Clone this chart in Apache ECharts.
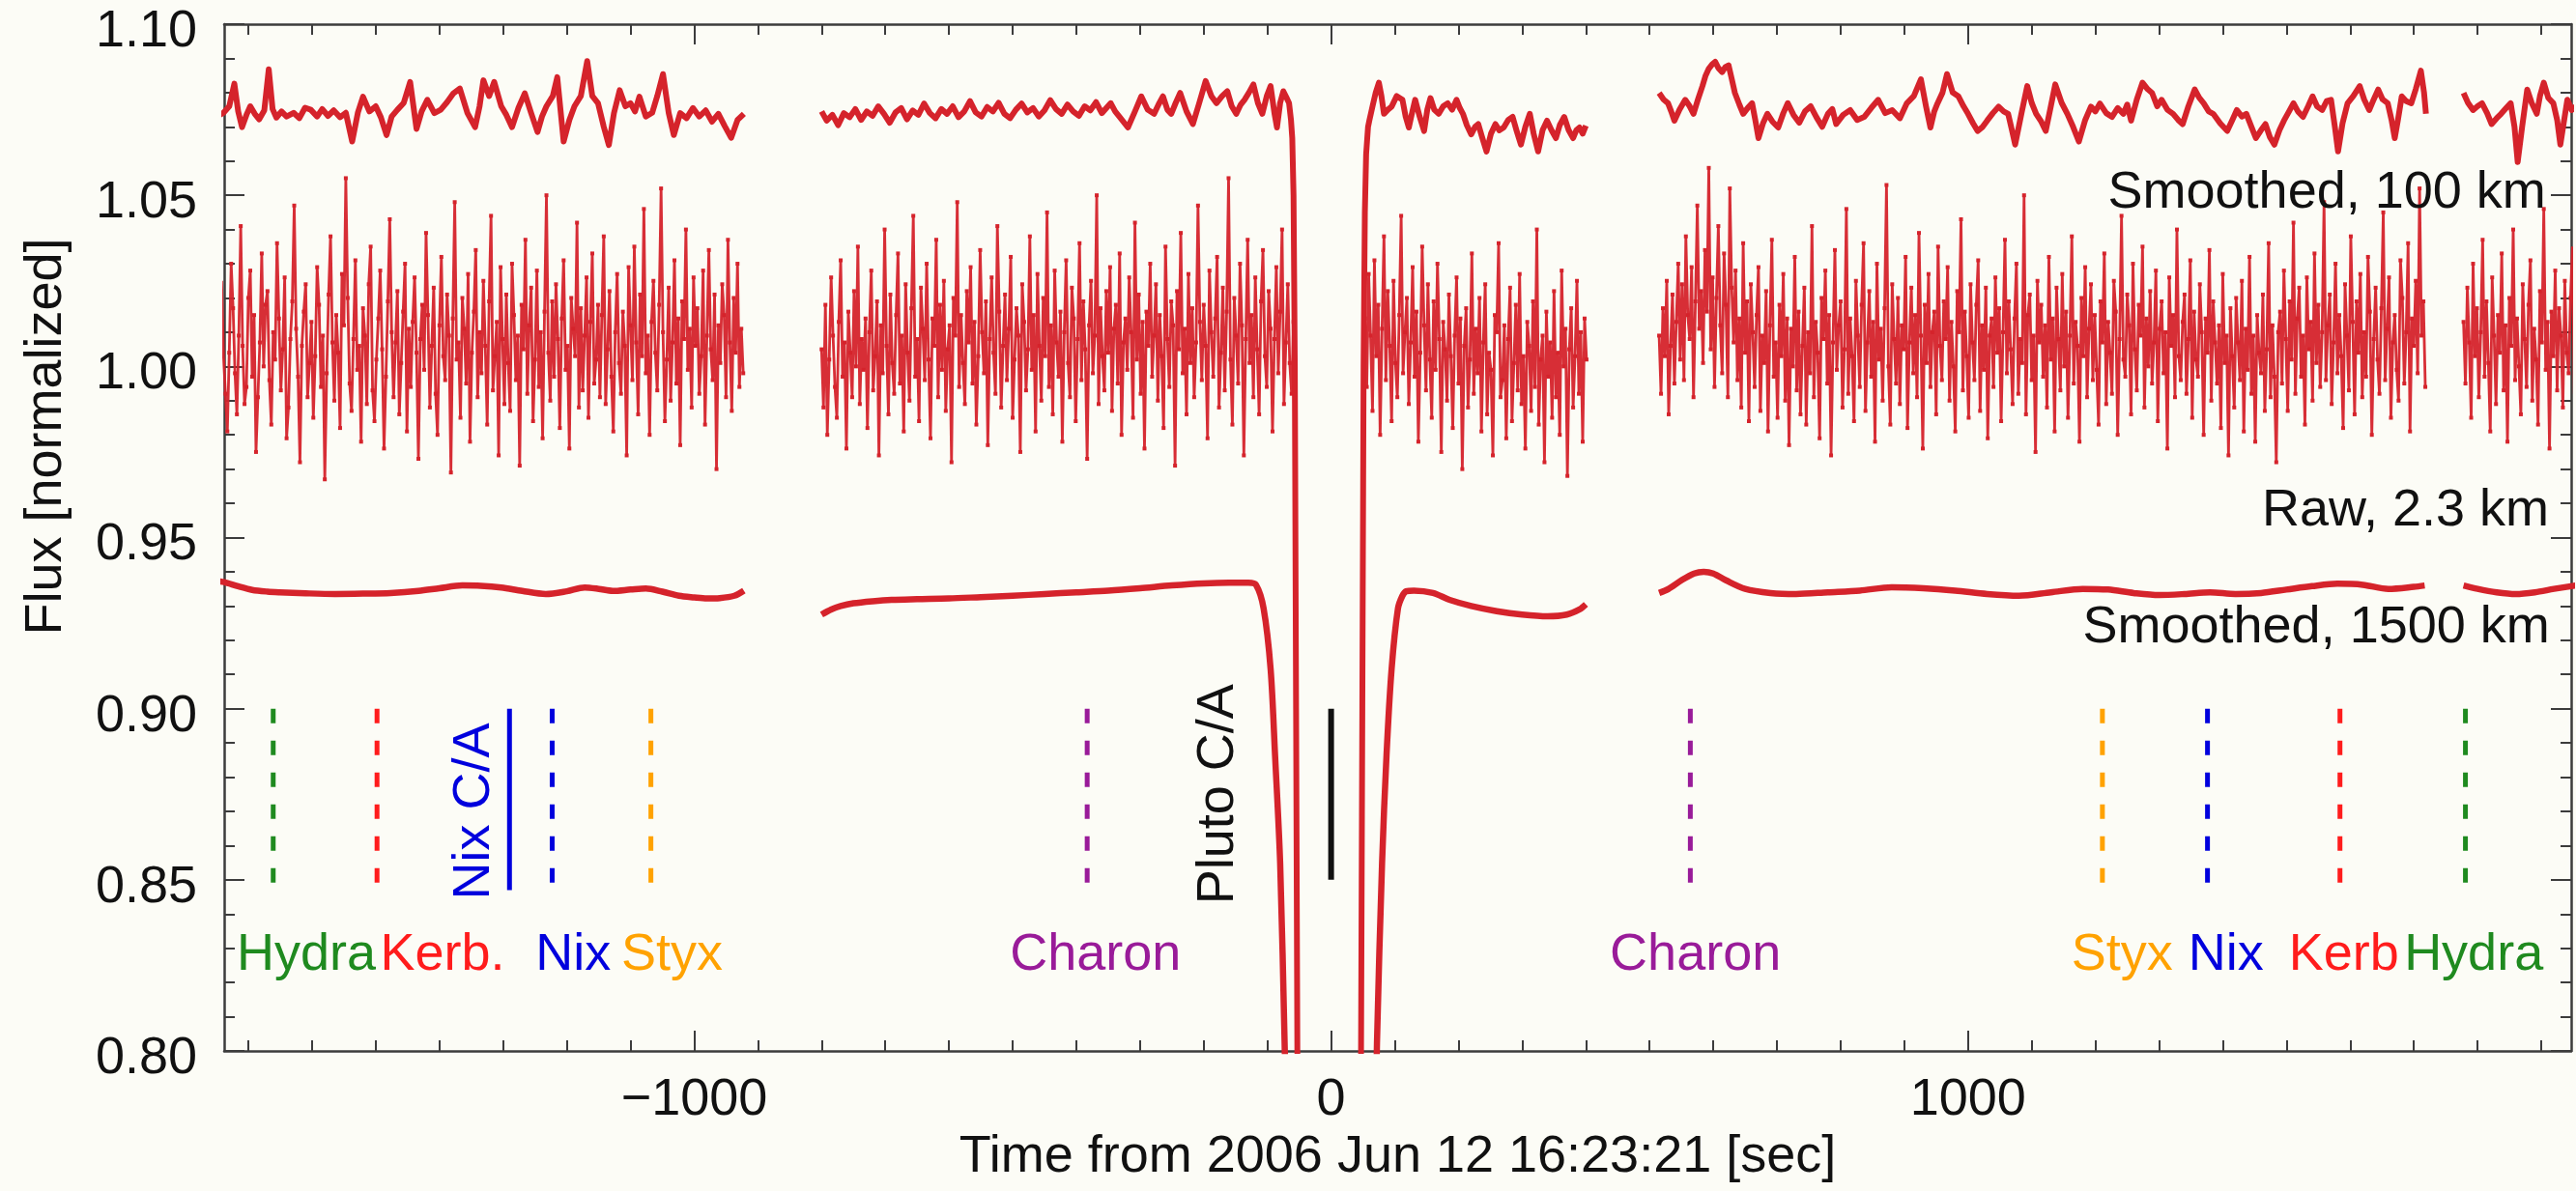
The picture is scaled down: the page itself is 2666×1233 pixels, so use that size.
<!DOCTYPE html>
<html>
<head>
<meta charset="utf-8">
<script src="https://cdn.jsdelivr.net/npm/echarts@6/dist/echarts.min.js"></script>
<style>
  html, body { margin: 0; padding: 0; background: #fcfcf6; }
  #chart { width: 2666px; height: 1233px; }
</style>
</head>
<body>
<div id="chart"></div>
<script>
// ---------------- DATA ----------------
// Axis ticks
const xMajorTicks = [-1000, 0, 1000];
const xMinorTicks = [-1700,-1600,-1500,-1400,-1300,-1200,-1100,-900,-800,-700,-600,-500,-400,-300,-200,-100,
                     100,200,300,400,500,600,700,800,900,1100,1200,1300,1400,1500,1600,1700,1800,1900];

// Raw data (2.3 km): deviations in thousandths of normalized flux, regular sampling
const rawStep = 3; // seconds between samples
const rawStarts = [-1745, -800, 44, 515, 1778];
const raw1 = [
 12,25,3,-8,-19,4,30,17,-2,-14,9,41,6,-11,-6,20,28,-3,15,-25,-9,7,33,0,18,
 22,-4,-17,10,2,36,14,-7,5,26,-21,-12,8,19,47,11,-3,-28,6,16,24,-9,1,13,-15,
 3,29,18,-6,9,-33,-2,21,38,7,-10,15,4,-18,27,12,55,20,-5,-13,8,31,-1,6,-22,
 17,9,-11,24,35,-7,-16,2,14,28,5,-24,-3,19,43,10,-9,7,22,-14,1,16,30,-19,11,
 -6,13,26,4,-27,8,18,-1,39,15,-12,6,23,-8,-20,12,32,3,-4,21,9,-31,14,48,2,
 7,-15,20,11,-5,27,-22,4,16,34,-9,10,-2,25,6,-17,19,44,-7,3,13,-26,29,8,-11,
 21,1,-13,30,15,-4,9,-29,18,5,37,-8,12,23,-16,2,28,-6,10,-21,16,50,4,-10,19,
 -3,24,8,-18,14,31,-1,6,-24,20,11,3,42,-12,17,-7,9,26,-15,13,33,-5,2,18,-9,
 15,38,-11,5,22,-3,-19,10,27,1,-8,16,6,-26,29,12,-4,35,7,-14,21,3,46,-2,9,
 -20,13,25,4,-7,18,52,10,-16,2,23,-10,7,31,-5,14,-23,19,8,40,-1,11,-12,26,6,
 17,-8,3,28,-17,9,34,5,-4,21,-30,12,1,24,15,-9,37,7,-13,20,4,30,-6,11,-2
];
const raw2 = [
 5,-12,18,-20,2,26,9,-6,-15,13,31,-3,7,-24,16,4,-9,22,0,35,-11,8,-1,14,-18,
 10,28,-7,3,19,-26,12,-2,40,6,-14,21,1,-8,15,33,-5,9,-19,24,4,-10,17,44,-3,
 8,-16,23,11,-4,30,2,-21,14,6,37,-9,18,-1,25,-13,5,12,-28,20,9,48,-6,15,1,
 -11,22,7,29,-5,13,-17,3,34,10,-2,19,-23,8,26,4,-8,41,16,-12,6,21,-4,11,32,
 -15,2,17,9,-25,24,13,-7,5,38,-1,15,-19,27,6,-10,20,3,45,-6,12,-14,28,7,-3,
 16,-22,10,31,1,-9,23,14,-16,8,36,-4,19,5,-27,12,25,-2,9,50,-11,17,3,-7,22,
 4,29,-13,11,18,-5,33,-20,7,14,-1,26,10,-15,42,2,21,-8,13,-24,16,6,30,-3,9,
 24,-10,15,3,-18,35,8,-6,19,12,-29,22,5,39,-2,11,-14,27,1,17,-9,7,47,13,-4,
 18,6,-21,28,10,-3,14,32,-12,4,23,-7,16,55,2,-17,20,9,-5,30,12,-26,8,37,1,
 15,-9,26,5,-14,19,34,3,-6,22,11,-19,8,29,-2,16,40,-11,7,24,1,-8,13,-60,-200,-350
];
const raw3 = [
 -420,-210,-40,14,-6,27,9,-13,31,3,18,-20,11,38,-4,22,6,-16,25,1,-9,15,44,-2,10,
 20,-11,7,29,-3,16,-22,4,35,12,-7,24,2,-15,19,-1,30,8,-25,13,5,-10,21,3,-18,
 9,26,-5,14,-30,6,17,-12,2,33,-8,11,-2,20,-19,7,24,-14,4,-1,-26,15,10,36,-9,
 -4,12,-21,8,23,-16,1,18,-7,27,-11,3,-24,13,6,-13,19,-6,40,-17,2,9,-28,16,-3,
 7,-15,22,-9,4,-20,28,0,11,-32,5,17,-12,3,25,-8,10,-22,14,2
];
const raw4 = [
 9,-8,17,3,25,-14,6,21,-5,13,30,2,24,-4,38,15,8,29,-9,19,47,11,22,1,34,
 16,58,5,26,-6,20,41,12,-2,33,18,-9,52,23,7,28,-4,14,-12,36,4,19,-16,24,10,
 -6,15,29,-13,9,1,22,-19,12,37,-3,7,-15,18,3,27,-10,14,-23,11,0,32,-7,16,-14,
 6,23,-17,10,-2,41,-9,13,4,-21,20,8,28,-5,15,-26,7,34,-1,12,19,-12,5,46,-8,
 14,3,-16,25,9,-6,18,36,-13,7,22,-3,13,-22,30,2,11,-10,17,53,0,-17,24,8,-5,
 20,-11,12,5,32,-18,7,23,-2,15,-9,39,9,-24,18,1,27,-6,10,16,-14,35,6,-4,19,
 8,29,-10,13,0,-19,22,10,43,-7,16,3,-15,24,7,-4,18,31,-13,12,-1,23,-21,9,14,
 -6,26,4,17,-16,10,37,-2,19,5,-11,14,30,-8,8,1,50,-14,15,21,-4,9,-25,25,7,
 18,-3,12,-12,32,2,14,-19,23,8,-7,27,0,16,-15,9,38,-5,13,6,-22,20,3,29,-9,
 11,24,-4,15,-1,-17,19,7,33,-11,13,4,-8,25,16,-20,8,44,2,-3,21,12,-14,30,5,
 -7,18,9,35,-12,14,0,22,-5,7,28,-16,11,19,-2,10,-24,26,6,15,-9,40,3,-4,13,
 21,-8,8,31,-15,16,2,-3,24,10,-20,14,4,34,-10,19,7,-5,12,-18,27,1,9,-26,17,
 3,-12,20,7,-4,25,-19,11,-1,32,-8,9,-22,15,4,-2,21,-13,5,36,-9,12,-3,-28,10,
 16,-5,28,8,-13,19,2,42,-8,14,23,-3,9,-17,26,5,13,-10,33,1,18,-6,10,48,-4,
 12,21,-11,7,30,-2,15,3,-18,24,9,-7,38,13,-14,19,4,27,-9,10,-3,32,16,-20,8,
 23,2,-8,17,45,-4,11,26,-15,7,15,-1,-10,31,20,-5,10,36,-19,14,6,25,-2,52,9,
 19,-6
];
const raw5 = [
 13,-5,23,7,-15,30,3,17,-9,10,37,-3,19,1,-19,26,9,-11,15,4,33,-7,12,-22,20,
 6,40,-4,14,0,-14,24,8,-6,18,31,-10,11,2,-17,22,7,46,-1,13,-24,16,3,28,-7,
 17,9,-12,25,4,-2,20,35,-8,12
];

// Smoothed, 100 km (offset curve): [time s, flux]
const s100seg1 = [[-1745,1.0735],[-1739,1.0741],[-1730,1.0760],[-1722,1.0826],[-1716,1.0745],[-1710,1.0699],[-1703,1.0735],[-1697,1.0760],[-1690,1.0738],[-1683,1.0722],[-1675,1.0748],[-1668,1.0868],[-1662,1.0752],[-1656,1.0727],[-1648,1.0745],[-1640,1.0730],[-1629,1.0741],[-1620,1.0725],[-1611,1.0756],[-1602,1.0750],[-1592,1.0730],[-1584,1.0752],[-1575,1.0732],[-1566,1.0748],[-1556,1.0728],[-1547,1.0741],[-1537,1.0657],[-1528,1.0742],[-1520,1.0788],[-1510,1.0745],[-1500,1.0760],[-1492,1.0728],[-1483,1.0676],[-1475,1.0730],[-1466,1.0750],[-1456,1.0770],[-1446,1.0831],[-1436,1.0694],[-1428,1.0745],[-1419,1.0779],[-1408,1.0740],[-1398,1.0750],[-1388,1.0772],[-1378,1.0798],[-1368,1.0812],[-1356,1.0740],[-1344,1.0699],[-1337,1.0760],[-1331,1.0836],[-1322,1.0790],[-1314,1.0831],[-1303,1.0760],[-1295,1.0735],[-1286,1.0699],[-1276,1.0755],[-1266,1.0798],[-1256,1.0740],[-1246,1.0685],[-1239,1.0730],[-1232,1.0760],[-1222,1.0790],[-1215,1.0845],[-1205,1.0657],[-1196,1.0720],[-1188,1.0760],[-1178,1.0790],[-1168,1.0892],[-1160,1.0790],[-1151,1.0769],[-1142,1.0700],[-1134,1.0647],[-1126,1.0740],[-1117,1.0807],[-1108,1.0760],[-1100,1.0769],[-1093,1.0745],[-1086,1.0788],[-1076,1.0730],[-1066,1.0741],[-1058,1.0790],[-1049,1.0854],[-1040,1.0740],[-1032,1.0676],[-1022,1.0740],[-1012,1.0725],[-1002,1.0755],[-992,1.0730],[-982,1.0748],[-972,1.0715],[-962,1.0738],[-952,1.0702],[-942,1.0668],[-932,1.0720],[-922,1.0738]];
const s100seg2 = [[-800,1.0745],[-792,1.0718],[-783,1.0735],[-774,1.0705],[-765,1.0740],[-756,1.0728],[-747,1.0752],[-738,1.0720],[-729,1.0745],[-720,1.0732],[-711,1.0760],[-702,1.0738],[-693,1.0712],[-684,1.0742],[-675,1.0755],[-666,1.0722],[-657,1.0748],[-648,1.0735],[-639,1.0768],[-630,1.0740],[-621,1.0725],[-612,1.0752],[-603,1.0738],[-594,1.0760],[-585,1.0728],[-576,1.0745],[-567,1.0775],[-558,1.0742],[-549,1.0730],[-540,1.0758],[-531,1.0745],[-522,1.0770],[-513,1.0738],[-504,1.0725],[-495,1.0750],[-486,1.0768],[-477,1.0742],[-468,1.0755],[-459,1.0730],[-450,1.0748],[-441,1.0778],[-432,1.0752],[-423,1.0738],[-414,1.0765],[-405,1.0745],[-396,1.0732],[-387,1.0760],[-378,1.0748],[-369,1.0772],[-360,1.0740],[-346,1.0769],[-339,1.0745],[-332,1.0729],[-319,1.0698],[-308,1.0745],[-298,1.0789],[-288,1.0750],[-278,1.0738],[-271,1.0765],[-264,1.0789],[-257,1.0750],[-251,1.0738],[-244,1.0770],[-237,1.0799],[-227,1.0745],[-217,1.0708],[-207,1.0770],[-197,1.0834],[-188,1.0790],[-180,1.0769],[-171,1.0790],[-163,1.0804],[-156,1.0760],[-149,1.0738],[-142,1.0765],[-136,1.0779],[-129,1.0800],[-122,1.0824],[-115,1.0770],[-108,1.0738],[-101,1.0790],[-95,1.0819],[-89,1.0740],[-85,1.0698],[-80,1.0770],[-75,1.0804],[-70,1.0785],[-66,1.0769],[-63,1.0720],[-61,1.0667],[-59,1.0500],[-57,1.0000],[-55,0.9000],[-53,0.8000],[-51,0.7000],[-45,0.4000]];
const s100seg3 = [[41,0.4000],[45,0.7000],[47,0.8000],[49,0.9000],[51,1.0000],[53,1.0450],[55,1.0620],[58,1.0700],[60,1.0718],[65,1.0760],[70,1.0800],[75,1.0829],[79,1.0790],[83,1.0738],[89,1.0750],[95,1.0759],[103,1.0790],[112,1.0779],[117,1.0730],[122,1.0698],[127,1.0740],[132,1.0779],[139,1.0730],[146,1.0688],[151,1.0750],[156,1.0784],[162,1.0750],[169,1.0738],[176,1.0760],[183,1.0769],[190,1.0750],[197,1.0779],[202,1.0755],[207,1.0738],[213,1.0705],[220,1.0678],[226,1.0700],[231,1.0708],[237,1.0670],[244,1.0628],[251,1.0680],[258,1.0708],[264,1.0690],[271,1.0698],[278,1.0720],[285,1.0729],[291,1.0690],[298,1.0648],[305,1.0700],[312,1.0738],[318,1.0680],[325,1.0628],[332,1.0690],[339,1.0718],[346,1.0690],[353,1.0667],[359,1.0705],[366,1.0729],[373,1.0690],[380,1.0667],[385,1.0690],[390,1.0698],[395,1.0680],[400,1.0703]];
const s100seg4 = [[515,1.0799],[522,1.0780],[529,1.0769],[534,1.0745],[539,1.0718],[547,1.0750],[556,1.0779],[563,1.0760],[569,1.0738],[576,1.0780],[583,1.0819],[588,1.0850],[593,1.0870],[598,1.0882],[603,1.0890],[608,1.0872],[614,1.0860],[619,1.0875],[624,1.0880],[629,1.0840],[634,1.0799],[641,1.0765],[647,1.0738],[654,1.0755],[661,1.0769],[666,1.0720],[671,1.0667],[678,1.0710],[685,1.0738],[693,1.0715],[702,1.0698],[710,1.0740],[717,1.0769],[726,1.0735],[735,1.0712],[744,1.0745],[753,1.0760],[762,1.0728],[771,1.0700],[780,1.0738],[787,1.0752],[793,1.0708],[804,1.0735],[815,1.0749],[826,1.0720],[837,1.0729],[848,1.0755],[859,1.0779],[870,1.0740],[881,1.0749],[893,1.0725],[904,1.0769],[915,1.0790],[926,1.0839],[934,1.0760],[941,1.0698],[947,1.0745],[952,1.0768],[960,1.0800],[967,1.0854],[976,1.0800],[985,1.0789],[993,1.0760],[1000,1.0738],[1008,1.0710],[1015,1.0688],[1023,1.0700],[1030,1.0718],[1039,1.0740],[1048,1.0759],[1056,1.0745],[1063,1.0738],[1069,1.0690],[1074,1.0648],[1084,1.0740],[1093,1.0819],[1100,1.0770],[1107,1.0738],[1115,1.0715],[1122,1.0688],[1130,1.0760],[1137,1.0824],[1147,1.0770],[1156,1.0738],[1165,1.0700],[1174,1.0657],[1184,1.0720],[1193,1.0759],[1200,1.0745],[1207,1.0768],[1217,1.0740],[1226,1.0729],[1235,1.0755],[1244,1.0738],[1250,1.0765],[1256,1.0718],[1265,1.0780],[1274,1.0829],[1282,1.0810],[1289,1.0799],[1297,1.0760],[1304,1.0779],[1313,1.0750],[1322,1.0738],[1330,1.0720],[1337,1.0708],[1346,1.0760],[1356,1.0809],[1363,1.0785],[1370,1.0769],[1378,1.0745],[1385,1.0738],[1396,1.0710],[1407,1.0688],[1415,1.0720],[1422,1.0749],[1430,1.0730],[1437,1.0738],[1445,1.0700],[1452,1.0667],[1460,1.0690],[1467,1.0708],[1474,1.0670],[1481,1.0648],[1489,1.0690],[1496,1.0718],[1504,1.0745],[1511,1.0769],[1518,1.0745],[1526,1.0729],[1534,1.0760],[1541,1.0789],[1548,1.0760],[1556,1.0749],[1563,1.0775],[1570,1.0779],[1576,1.0700],[1581,1.0628],[1588,1.0710],[1596,1.0769],[1605,1.0790],[1615,1.0819],[1622,1.0780],[1630,1.0749],[1637,1.0780],[1644,1.0809],[1651,1.0780],[1659,1.0769],[1665,1.0720],[1670,1.0667],[1675,1.0720],[1681,1.0789],[1688,1.0775],[1696,1.0769],[1703,1.0810],[1711,1.0864],[1716,1.0800],[1719,1.0738]];
const s100seg5 = [[1778,1.0799],[1785,1.0770],[1793,1.0749],[1800,1.0760],[1807,1.0769],[1815,1.0740],[1822,1.0708],[1830,1.0725],[1837,1.0738],[1845,1.0755],[1852,1.0769],[1858,1.0700],[1863,1.0597],[1870,1.0700],[1878,1.0809],[1885,1.0770],[1893,1.0738],[1898,1.0790],[1904,1.0829],[1911,1.0785],[1919,1.0769],[1925,1.0720],[1930,1.0648],[1936,1.0720],[1941,1.0779],[1948,1.0749],[1954,1.0760]];

// Smoothed, 1500 km (offset curve): [time s, flux]
const s1500seg1 = [[-1745,0.9372],[-1738,0.9370],[-1715,0.9357],[-1694,0.9347],[-1670,0.9342],[-1651,0.9340],[-1610,0.9337],[-1564,0.9335],[-1520,0.9336],[-1477,0.9338],[-1433,0.9344],[-1400,0.9352],[-1364,0.9360],[-1335,0.9359],[-1303,0.9354],[-1270,0.9344],[-1233,0.9335],[-1200,0.9343],[-1172,0.9354],[-1150,0.9350],[-1128,0.9344],[-1100,0.9348],[-1076,0.9351],[-1050,0.9342],[-1024,0.9330],[-1000,0.9325],[-980,0.9322],[-960,0.9323],[-937,0.9330],[-922,0.9345]];
const s1500seg2 = [[-800,0.9275],[-785,0.9290],[-770,0.9300],[-750,0.9308],[-720,0.9314],[-690,0.9318],[-650,0.9320],[-600,0.9322],[-550,0.9326],[-500,0.9330],[-450,0.9335],[-400,0.9340],[-350,0.9345],[-300,0.9352],[-250,0.9360],[-200,0.9366],[-160,0.9368],[-130,0.9368],[-118,0.9362],[-106,0.9293],[-95,0.9116],[-88,0.8864],[-80,0.8549],[-73,0.8023],[-66,0.7400],[-58,0.6500]];
const s1500seg3 = [[58,0.6500],[66,0.7400],[72,0.8023],[80,0.8549],[87,0.8864],[95,0.9116],[105,0.9293],[112,0.9330],[118,0.9343],[130,0.9345],[160,0.9338],[186,0.9318],[220,0.9300],[260,0.9285],[300,0.9275],[340,0.9270],[370,0.9275],[390,0.9290],[400,0.9305]];
const s1500seg4 = [[515,0.9338],[530,0.9350],[550,0.9375],[570,0.9395],[585,0.9400],[600,0.9395],[620,0.9375],[650,0.9350],[690,0.9338],[730,0.9335],[780,0.9340],[830,0.9345],[880,0.9355],[930,0.9352],[980,0.9345],[1030,0.9335],[1080,0.9330],[1130,0.9340],[1180,0.9350],[1220,0.9348],[1260,0.9338],[1300,0.9332],[1340,0.9335],[1380,0.9340],[1420,0.9335],[1460,0.9338],[1500,0.9348],[1540,0.9358],[1580,0.9365],[1620,0.9362],[1660,0.9350],[1700,0.9356],[1717,0.9360]];
const s1500seg5 = [[1778,0.9360],[1800,0.9350],[1830,0.9340],[1860,0.9335],[1890,0.9340],[1920,0.9350],[1954,0.9360]];

// Moon closest-approach markers
const moonNames  = ['Hydra','Kerb.','Nix','Styx','Charon','Charon','Styx','Nix','Kerb','Hydra'];
const moonMarkT  = [-1661,-1498,-1223,-1068,-383,564,1211,1376,1584,1781];
const moonLabelT = [-1609,-1395,-1190,-1035,-370,572,1242,1405,1590,1794];
const moonMarkRange = [0.900, 0.847];
const moonLabelY = 0.828;
const nixCA   = { t: -1290, range: [0.900, 0.847], labelT: -1345, labelY: 0.870 };
const plutoCA = { t: 0,     range: [0.900, 0.850], labelT: -176,  labelY: 0.875 };

// Curve annotations (right-aligned)
const curveLabels  = ['Smoothed, 100 km', 'Raw, 2.3 km', 'Smoothed, 1500 km'];
const curveLabelT  = [1908, 1913, 1914];
const curveLabelY  = [1.0507, 0.9578, 0.9235];

// ---------------- STYLE ----------------
const RED = '#d5232b';
const FONT = '"Liberation Sans", Arial, Helvetica, sans-serif';
const FS = 54;
const AX = '#3c3c3c';
const moonColors = {Hydra:'#1f8a1f', 'Kerb.':'#ff1c1c', Kerb:'#ff1c1c', Nix:'#0000dd', Styx:'#ffa200', Charon:'#991b99'};

const chart = echarts.init(document.getElementById('chart'), null, {renderer: 'canvas'});

const series = [];
const rawSegs = [raw1, raw2, raw3, raw4, raw5];
rawSegs.forEach((vals, k) => {
  series.push({
    type: 'line', xAxisIndex: 0, yAxisIndex: 0, silent: true, z: 2,
    data: vals.map((v, i) => [rawStarts[k] + i * rawStep, 1 + v / 1000]),
    showSymbol: true, showAllSymbol: true, symbol: 'rect', symbolSize: 4,
    itemStyle: { color: RED, opacity: 1 },
    lineStyle: { color: RED, width: 2.8, opacity: 0.95 }
  });
});
[s100seg1, s100seg2, s100seg3, s100seg4, s100seg5].forEach(seg => {
  series.push({
    type: 'line', data: seg, silent: true, z: 3, showSymbol: false,
    lineStyle: { color: RED, width: 6, join: 'round' }
  });
});
[s1500seg1, s1500seg2, s1500seg3, s1500seg4, s1500seg5].forEach(seg => {
  series.push({
    type: 'line', data: seg, silent: true, z: 3, showSymbol: false, smooth: 0.3,
    lineStyle: { color: RED, width: 6.5, join: 'round' }
  });
});
// moon markers
moonNames.forEach((n, i) => {
  series.push({
    type: 'line', silent: true, z: 4, showSymbol: false,
    data: [[moonMarkT[i], moonMarkRange[0]], [moonMarkT[i], moonMarkRange[1]]],
    lineStyle: { color: moonColors[n], width: 5, type: [15, 18], cap: 'butt' }
  });
});
series.push({
  type: 'line', silent: true, z: 4, showSymbol: false,
  data: [[nixCA.t, nixCA.range[0]], [nixCA.t, nixCA.range[1]]],
  lineStyle: { color: '#0000dd', width: 5 }
});
series.push({
  type: 'line', silent: true, z: 4, showSymbol: false,
  data: [[plutoCA.t, plutoCA.range[0]], [plutoCA.t, plutoCA.range[1]]],
  lineStyle: { color: '#111111', width: 6 }
});
// text annotations
const textData = [];
moonNames.forEach((n, i) => {
  textData.push({ value: [moonLabelT[i], moonLabelY],
    label: { formatter: n, color: moonColors[n], position: 'inside', align: 'center', verticalAlign: 'middle' } });
});
textData.push({ value: [nixCA.labelT, nixCA.labelY],
  label: { formatter: 'Nix C/A', color: '#0000dd', rotate: 90, position: 'inside', align: 'center', verticalAlign: 'middle' } });
textData.push({ value: [plutoCA.labelT, plutoCA.labelY],
  label: { formatter: 'Pluto C/A', color: '#111111', rotate: 90, position: 'inside', align: 'center', verticalAlign: 'middle' } });
curveLabels.forEach((s, i) => {
  textData.push({ value: [curveLabelT[i], curveLabelY[i]],
    label: { formatter: s, color: '#111111', position: 'left', distance: 0, align: 'right', verticalAlign: 'middle' } });
});
series.push({
  type: 'scatter', silent: true, z: 10, symbolSize: 1,
  itemStyle: { color: 'rgba(0,0,0,0)', opacity: 1 },
  label: { show: true, fontSize: FS, fontFamily: FONT, opacity: 1, textBorderWidth: 0 },
  labelLayout: { hideOverlap: false },
  data: textData
});

const xBase = { type: 'value', min: -1738, max: 1947, splitLine: { show: false }, gridIndex: 0 };
const option = {
  animation: false,
  backgroundColor: '#fcfcf6',
  grid: { left: 232, right: 5, top: 25, bottom: 145, containLabel: false, outerBoundsMode: 'none' },
  xAxis: [
    Object.assign({}, xBase, {
      position: 'bottom',
      axisLine: { show: true, onZero: false, lineStyle: { color: AX, width: 2.5 } },
      axisTick: { show: true, inside: true, length: 21, customValues: xMajorTicks, lineStyle: { color: AX, width: 2 } },
      axisLabel: { show: true, customValues: xMajorTicks, margin: 24, fontSize: FS, fontFamily: FONT, color: '#111',
        formatter: v => v < 0 ? '\u2212' + Math.abs(v) : String(v) },
      name: 'Time from 2006 Jun 12 16:23:21 [sec]', nameLocation: 'middle', nameGap: 80,
      nameTextStyle: { fontSize: FS, fontFamily: FONT, color: '#111' }
    }),
    Object.assign({}, xBase, {
      position: 'bottom',
      axisLine: { show: false, onZero: false },
      axisTick: { show: true, inside: true, length: 11, customValues: xMinorTicks, lineStyle: { color: AX, width: 2 } },
      axisLabel: { show: false }
    }),
    Object.assign({}, xBase, {
      position: 'top',
      axisLine: { show: true, onZero: false, lineStyle: { color: AX, width: 2.5 } },
      axisTick: { show: true, inside: true, length: 21, customValues: xMajorTicks, lineStyle: { color: AX, width: 2 } },
      axisLabel: { show: false }
    }),
    Object.assign({}, xBase, {
      position: 'top',
      axisLine: { show: false, onZero: false },
      axisTick: { show: true, inside: true, length: 11, customValues: xMinorTicks, lineStyle: { color: AX, width: 2 } },
      axisLabel: { show: false }
    })
  ],
  yAxis: [
    {
      type: 'value', min: 0.8, max: 1.1, interval: 0.05, position: 'left',
      splitLine: { show: false }, minorSplitLine: { show: false },
      axisLine: { show: true, onZero: false, lineStyle: { color: AX, width: 2.5 } },
      axisTick: { show: true, inside: true, length: 21, lineStyle: { color: AX, width: 2 } },
      minorTick: { show: true, splitNumber: 5, length: 11, lineStyle: { color: AX, width: 2 } },
      axisLabel: { show: true, margin: 28, color: '#111',
        formatter: v => '{t|' + v.toFixed(2) + '}',
        rich: { t: { fontSize: FS, fontFamily: FONT, color: '#111', padding: [16, 0, 0, 0] } } }
    },
    {
      type: 'value', min: 0.8, max: 1.1, interval: 0.05, position: 'right',
      splitLine: { show: false }, minorSplitLine: { show: false },
      axisLine: { show: true, onZero: false, lineStyle: { color: AX, width: 2.5 } },
      axisTick: { show: true, inside: true, length: 21, lineStyle: { color: AX, width: 2 } },
      minorTick: { show: true, splitNumber: 5, length: 11, lineStyle: { color: AX, width: 2 } },
      axisLabel: { show: false }
    }
  ],
  graphic: [{
    type: 'text', x: 48, y: 452, rotation: Math.PI / 2, z: 20,
    style: { text: 'Flux [normalized]', fontSize: FS, fontFamily: FONT, fill: '#111', align: 'center', verticalAlign: 'middle' }
  }],
  series: series
};
chart.setOption(option);
</script>
</body>
</html>
